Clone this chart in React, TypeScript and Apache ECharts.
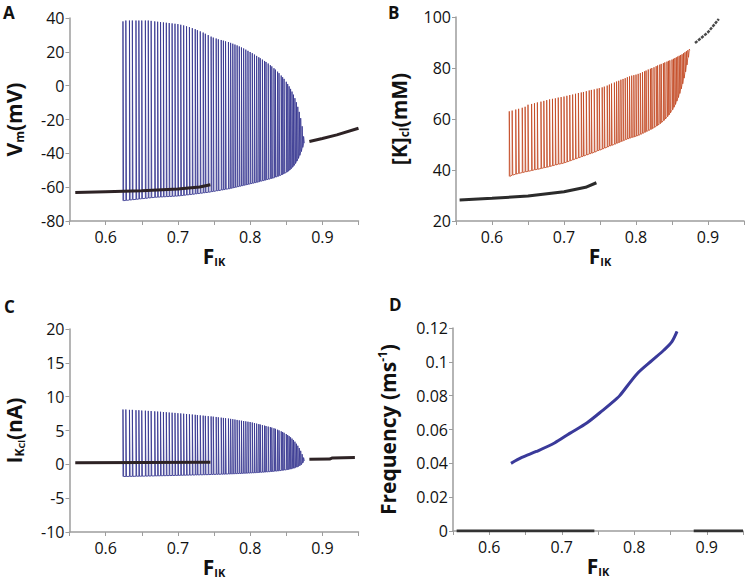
import React, { useEffect, useRef } from "react";
import * as echarts from "echarts";

// ---- data ----
const fTickLabels = ["0.6", "0.7", "0.8", "0.9"];

const spikeF = [
  0.624, 0.628, 0.633, 0.637, 0.642, 0.646, 0.650, 0.655, 0.659, 0.663,
  0.668, 0.672, 0.676, 0.680, 0.684, 0.688, 0.692, 0.696, 0.700, 0.704,
  0.708, 0.712, 0.716, 0.720, 0.724, 0.727, 0.731, 0.735, 0.738, 0.742,
  0.746, 0.749, 0.753, 0.756, 0.760, 0.763, 0.766, 0.770, 0.773, 0.776,
  0.779, 0.782, 0.785, 0.788, 0.791, 0.794, 0.797, 0.800, 0.803, 0.806,
  0.809, 0.812, 0.814, 0.817, 0.820, 0.822, 0.825, 0.828, 0.830, 0.833,
  0.835, 0.838, 0.840, 0.843, 0.845, 0.847, 0.850, 0.852, 0.854, 0.856,
  0.858, 0.860, 0.862, 0.864, 0.866, 0.868, 0.870, 0.872, 0.874,
];

const vmPeak = [
  38, 38.5, 38.5, 38.5, 38.5, 38.5, 38.5, 38.5, 38.5, 38.3,
  38, 37.8, 37.6, 37.4, 37.2, 37, 36.8, 36.6, 36.4, 36,
  35.6, 35.1, 34.6, 34, 33.4, 32.8, 32.1, 31.4, 30.7, 29.9,
  29, 28.4, 27.9, 27.4, 27, 26.6, 26.2, 25.8, 25.3, 24.8,
  24.3, 23.8, 23.2, 22.6, 22, 21.3, 20.6, 19.9, 19.2, 18.4,
  17.6, 16.8, 16.2, 15.4, 14.6, 14, 13.1, 12.1, 11.4, 10.3,
  9.5, 8.3, 7.4, 6, 5, 4, 2.3, 1, -0.4, -1.9,
  -3.5, -5.3, -7.4, -9.8, -12.5, -15.5, -19.2, -24, -30,
];
const vmTrough = [
  -68, -67.8, -67.6, -67.4, -67.2, -67, -66.8, -66.6, -66.4, -66.2,
  -66, -65.9, -65.8, -65.7, -65.6, -65.5, -65.4, -65.3, -65.2, -65,
  -64.8, -64.6, -64.4, -64.2, -64, -63.8, -63.6, -63.4, -63.2, -63,
  -62.7, -62.5, -62.2, -62, -61.7, -61.5, -61.2, -61, -60.7, -60.4,
  -60.1, -59.8, -59.5, -59.2, -58.9, -58.6, -58.3, -58, -57.7, -57.4,
  -57.1, -56.8, -56.5, -56.2, -55.9, -55.6, -55.3, -55, -54.7, -54.4,
  -54, -53.6, -53.2, -52.8, -52.3, -51.8, -51.2, -50.6, -49.9, -49.1,
  -48.2, -47.2, -46, -44.6, -43, -41.2, -39, -36.5, -34,
];
const vmRestLow = [[0.558, -63.2], [0.6, -62.7], [0.65, -62.1], [0.7, -61.1], [0.73, -59.9], [0.745, -58.6]];
const vmRestHigh = [[0.882, -33], [0.9, -31.2], [0.92, -29.1], [0.95, -25.2]];

const kPeak = [
  63, 63.3, 63.7, 64, 64.4, 64.8, 65.6, 65.9, 66.2, 66.5,
  66.8, 67.1, 67.4, 67.7, 67.9, 68.1, 68.4, 68.6, 68.8, 69.1,
  69.4, 69.6, 69.9, 70.2, 70.4, 70.6, 70.9, 71.2, 71.4, 71.6,
  71.9, 72.1, 72.4, 72.7, 73.1, 73.5, 73.9, 74.3, 74.7, 75,
  75.4, 75.7, 76, 76.4, 76.7, 77, 77.2, 77.4, 77.7, 78,
  78.4, 78.7, 79, 79.4, 79.7, 80, 80.3, 80.7, 81, 81.3,
  81.6, 81.9, 82.2, 82.5, 82.8, 83, 83.3, 83.6, 83.9, 84.2,
  84.5, 84.8, 85.1, 85.4, 85.8, 86.2, 86.6, 87, 87.4,
];
const kTrough = [
  37.5, 38, 38.4, 38.7, 39, 39.3, 39.5, 39.8, 40.1, 40.3,
  40.6, 40.9, 41.1, 41.4, 41.7, 42, 42.3, 42.5, 42.8, 43.2,
  43.6, 44, 44.4, 44.8, 45.2, 45.5, 45.9, 46.3, 46.6, 47,
  47.5, 47.8, 48.2, 48.6, 49, 49.4, 49.7, 50.1, 50.5, 50.8,
  51.2, 51.5, 51.9, 52.2, 52.5, 52.8, 53, 53.3, 53.6, 54,
  54.4, 54.8, 55.1, 55.5, 55.9, 56.2, 56.7, 57.2, 57.6, 58.2,
  58.7, 59.4, 60, 60.9, 61.6, 62.4, 63.6, 64.6, 65.7, 67,
  68.4, 70, 71.8, 73.8, 76, 78.5, 81.2, 84.2, 87,
];
const kRestLow = [[0.555, 28.2], [0.6, 28.9], [0.65, 29.8], [0.7, 31.5], [0.73, 33.2], [0.745, 35]];
const kRestHigh = [[0.882, 89.8], [0.9, 94], [0.915, 99.2]];

const iPeak = [
  8.1, 8.1, 8.05, 8.05, 8, 8, 7.95, 7.93, 7.9, 7.87,
  7.83, 7.8, 7.77, 7.73, 7.7, 7.66, 7.63, 7.6, 7.56, 7.52,
  7.48, 7.44, 7.4, 7.36, 7.32, 7.28, 7.24, 7.2, 7.16, 7.12,
  7.08, 7.05, 7, 6.95, 6.9, 6.86, 6.82, 6.77, 6.72, 6.67,
  6.62, 6.56, 6.5, 6.45, 6.4, 6.35, 6.3, 6.25, 6.18, 6.1,
  6.02, 5.94, 5.88, 5.8, 5.72, 5.66, 5.58, 5.5, 5.43, 5.33,
  5.25, 5.12, 5.02, 4.88, 4.78, 4.66, 4.48, 4.33, 4.17, 4,
  3.8, 3.6, 3.35, 3.05, 2.75, 2.4, 2, 1.5, 1,
];
const iTrough = [
  -1.8, -1.8, -1.78, -1.78, -1.76, -1.76, -1.75, -1.74, -1.73, -1.72,
  -1.71, -1.7, -1.69, -1.68, -1.67, -1.66, -1.65, -1.64, -1.63, -1.62,
  -1.61, -1.6, -1.59, -1.58, -1.57, -1.56, -1.55, -1.54, -1.53, -1.52,
  -1.5, -1.49, -1.48, -1.47, -1.46, -1.45, -1.44, -1.42, -1.41, -1.4,
  -1.38, -1.37, -1.35, -1.34, -1.32, -1.31, -1.29, -1.28, -1.26, -1.24,
  -1.22, -1.2, -1.18, -1.16, -1.14, -1.12, -1.1, -1.07, -1.05, -1.02,
  -1, -0.97, -0.94, -0.9, -0.87, -0.84, -0.8, -0.76, -0.72, -0.67,
  -0.62, -0.56, -0.49, -0.41, -0.32, -0.2, -0.05, 0.2, 0.5,
];
const iRestLow = [[0.558, 0.25], [0.745, 0.3]];
const iRestHigh = [[0.882, 0.75], [0.91, 0.78], [0.914, 0.95], [0.945, 1.0]];

const freqCurve = [
  [0.630, 0.040], [0.645, 0.0435], [0.665, 0.047], [0.69, 0.052], [0.711, 0.0577],
  [0.735, 0.064], [0.757, 0.0715], [0.775, 0.078], [0.78, 0.080], [0.804, 0.093],
  [0.825, 0.101], [0.841, 0.107], [0.852, 0.112], [0.859, 0.118],
];
const freqZeroLow = [[0.555, 0], [0.745, 0]];
const freqZeroHigh = [[0.882, 0], [0.95, 0]];

// ---- helpers ----
const FONT = "'Open Sans', 'Noto Sans', sans-serif";
const AXIS_GREY = "#9d9d9d";

function spikeTrace(f: number[], peak: number[], trough: number[]) {
  const pts: number[][] = [];
  f.forEach((x, i) => {
    pts.push([x, trough[i]]);
    pts.push([x, peak[i]]);
    pts.push([x + 0.0009, trough[i]]);
  });
  return pts;
}

const richStyles = {
  b: { fontSize: 21, fontWeight: "bold", fontFamily: FONT, color: "#111", lineHeight: 23 },
  s: { fontSize: 12, fontWeight: "bold", fontFamily: FONT, color: "#111", lineHeight: 5, verticalAlign: "bottom" },
  ss: { fontSize: 9, fontWeight: "bold", fontFamily: FONT, color: "#111", lineHeight: 1, verticalAlign: "bottom" },
  sup: { fontSize: 12, fontWeight: "bold", fontFamily: FONT, color: "#111", lineHeight: 16, verticalAlign: "top" },
  xb: { fontSize: 21, fontWeight: "bold", fontFamily: FONT, color: "#111", lineHeight: 22 },
  xs: { fontSize: 11, fontWeight: "bold", fontFamily: FONT, color: "#111", lineHeight: 9, verticalAlign: "bottom" },
};

function xAxisFor(gridIndex: number) {
  return {
    type: "value",
    gridIndex,
    min: 0.55,
    max: 0.95,
    interval: 0.05,
    name: "{xb|F}{xs|IK}",
    nameLocation: "middle",
    nameGap: 19,
    nameTextStyle: { rich: richStyles },
    axisLine: { show: true, onZero: false, lineStyle: { color: AXIS_GREY, width: 1.5 } },
    axisTick: { show: true, inside: false, length: 4, lineStyle: { color: AXIS_GREY, width: 1 } },
    splitLine: { show: false },
    axisLabel: {
      margin: 8,
      fontSize: 16,
      fontFamily: FONT,
      color: "#111",
      formatter: (v: number) => {
        const s = (Math.round(v * 100) / 100).toFixed(1);
        const exact = Math.abs(Math.round(v * 10) / 10 - v) < 1e-6;
        return exact && fTickLabels.includes(s) ? s : "";
      },
    },
  };
}

function yAxisFor(gridIndex: number, min: number, max: number, interval: number, name: string, nameGap: number) {
  return {
    type: "value",
    gridIndex,
    min,
    max,
    interval,
    name,
    nameLocation: "middle",
    nameRotate: 90,
    nameGap,
    nameTextStyle: { rich: richStyles },
    axisLine: { show: true, onZero: false, lineStyle: { color: AXIS_GREY, width: 1.5 } },
    axisTick: { show: true, inside: false, length: 4, lineStyle: { color: AXIS_GREY, width: 1 } },
    splitLine: { show: false },
    axisLabel: { margin: 5, fontSize: 16, fontFamily: FONT, color: "#111" },
  };
}

function lineSeries(xi: number, data: number[][], color: string, width: number, opacity = 1, z = 2, extra: any = {}) {
  return {
    type: "line",
    xAxisIndex: xi,
    yAxisIndex: xi,
    data,
    showSymbol: false,
    symbol: "none",
    silent: true,
    z,
    lineStyle: { color, width, opacity, ...(extra.lineStyle || {}) },
    ...(extra.smooth ? { smooth: extra.smooth } : {}),
  };
}

export default function App() {
  const ref = useRef<HTMLDivElement>(null);

  useEffect(() => {
    if (!ref.current) return;
    const chart = echarts.init(ref.current, undefined, { renderer: "svg" });

    const BLUE = "#35358f";
    const RED = "#c2451e";
    const DARK = "#2e2325";

    const option = {
      animation: false,
      backgroundColor: "#ffffff",
      grid: [
        { left: 69.5, top: 18, width: 289, height: 203 },
        { left: 456, top: 17, width: 289, height: 204 },
        { left: 69.5, top: 329, width: 289, height: 203 },
        { left: 453, top: 328, width: 290, height: 203 },
      ],
      xAxis: [xAxisFor(0), xAxisFor(1), xAxisFor(2), xAxisFor(3)],
      yAxis: [
        yAxisFor(0, -80, 40, 20, "{b|V}{s|m}{b|(mV)}", 44),
        yAxisFor(1, 20, 100, 20, "{b|[K]}{s|cl}{b|(mM)}", 46),
        yAxisFor(2, -10, 20, 5, "{b|I}{s|K}{ss|Cl}{b|(nA)}", 44),
        yAxisFor(3, 0, 0.12, 0.02, "{b|Frequency (ms}{sup|-1}{b|)}", 54),
      ],
      series: [
        lineSeries(0, spikeTrace(spikeF, vmPeak, vmTrough), BLUE, 1, 0.85, 2),
        lineSeries(0, vmRestLow, DARK, 3, 1, 3),
        lineSeries(0, vmRestHigh, DARK, 3, 1, 3),
        lineSeries(1, spikeTrace(spikeF, kPeak, kTrough), RED, 1, 0.8, 2),
        lineSeries(1, kRestLow, "#2b2b2b", 3, 1, 3),
        lineSeries(1, kRestHigh, "#4a4a4a", 2.5, 1, 3, { lineStyle: { type: [3, 1] } }),
        lineSeries(2, spikeTrace(spikeF, iPeak, iTrough), BLUE, 1, 0.85, 2),
        lineSeries(2, iRestLow, DARK, 3, 1, 3),
        lineSeries(2, iRestHigh, DARK, 3, 1, 3),
        lineSeries(3, freqCurve, "#3a3a9a", 3, 1, 3, { smooth: 0.3 }),
        lineSeries(3, freqZeroLow, "#333333", 3, 1, 3),
        lineSeries(3, freqZeroHigh, "#333333", 3, 1, 3),
      ],
      graphic: [
        { type: "text", left: 3, top: 4, style: { text: "A", font: `bold 17px ${FONT}`, fill: "#111" } },
        { type: "text", left: 388, top: 4, style: { text: "B", font: `bold 17px ${FONT}`, fill: "#111" } },
        { type: "text", left: 4, top: 298, style: { text: "C", font: `bold 17px ${FONT}`, fill: "#111" } },
        { type: "text", left: 389, top: 296, style: { text: "D", font: `bold 17px ${FONT}`, fill: "#111" } },
      ],
    };

    chart.setOption(option as any);
    return () => chart.dispose();
  }, []);

  return (
    <div
      ref={ref}
      style={{ position: "absolute", left: 0, top: 0, width: 747, height: 588, background: "#fff" }}
    />
  );
}
